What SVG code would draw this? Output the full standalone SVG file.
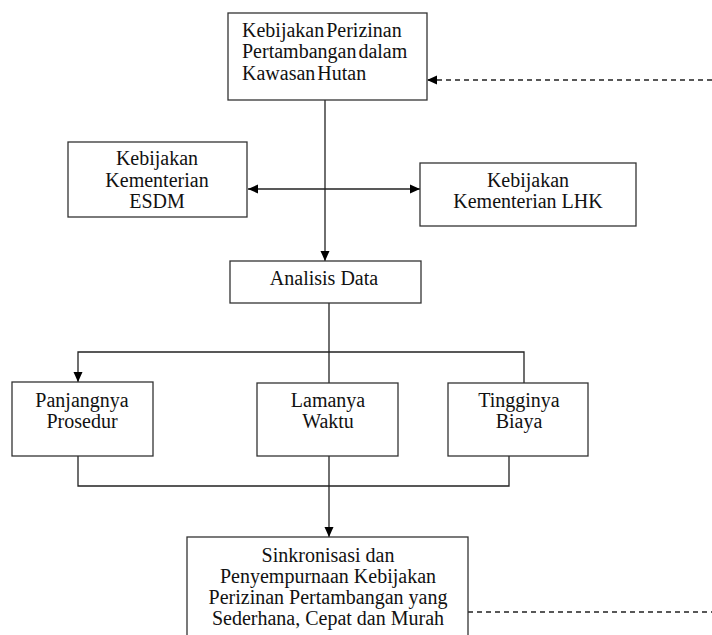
<svg xmlns="http://www.w3.org/2000/svg" width="712" height="635" viewBox="0 0 712 635">
<style>
.box{fill:#fff;stroke:#333;stroke-width:1.3}
.t{font-size:20px;fill:#111}
.c{text-anchor:middle}
.ln{fill:none;stroke:#222;stroke-width:1.3}
.dash{fill:none;stroke:#222;stroke-width:1.3;stroke-dasharray:5,4}
</style>
<defs>
<marker id="ah" viewBox="0 0 10 10" refX="10" refY="5" markerWidth="10" markerHeight="10" markerUnits="userSpaceOnUse" orient="auto-start-reverse">
<path d="M0,0.5 L10,5 L0,9.5 Z" fill="#000"/>
</marker>
</defs>
<rect width="712" height="635" fill="#fff"/>
<g id="connectors">
<line class="ln" x1="325" y1="100" x2="325" y2="261" marker-end="url(#ah)"/>
<line class="ln" x1="248" y1="189" x2="420" y2="189" marker-start="url(#ah)" marker-end="url(#ah)"/>
<polyline class="ln" points="329,303 329,383"/>
<polyline class="ln" points="78,382 78,352 524,352 524,383" marker-start="url(#ah)"/>
<polyline class="ln" points="78,456 78,486 509,486 509,456"/>
<line class="ln" x1="329" y1="456" x2="329" y2="537" marker-end="url(#ah)"/>
<line class="dash" x1="712" y1="80" x2="427" y2="80" marker-end="url(#ah)"/>
<line class="dash" x1="468" y1="612" x2="712" y2="612"/>
</g>
<g font-family="Liberation Serif, Tinos, DejaVu Serif, serif">
<g id="node-kebijakan-perizinan">
<rect class="box" x="228" y="13" width="199" height="87"/>
<text class="t" x="242" y="37" word-spacing="-3">Kebijakan Perizinan</text>
<text class="t" x="242" y="58" word-spacing="-3">Pertambangan dalam</text>
<text class="t" x="242" y="80" word-spacing="-3">Kawasan Hutan</text>
</g>
<g id="node-esdm">
<rect class="box" x="68" y="142" width="179" height="75"/>
<text class="t c" x="157" y="165">Kebijakan</text>
<text class="t c" x="157" y="187">Kementerian</text>
<text class="t c" x="157" y="208">ESDM</text>
</g>
<g id="node-lhk">
<rect class="box" x="420" y="163" width="216" height="63"/>
<text class="t c" x="528" y="187">Kebijakan</text>
<text class="t c" x="528" y="208">Kementerian LHK</text>
</g>
<g id="node-analisis">
<rect class="box" x="230" y="261" width="191" height="42"/>
<text class="t c" x="324" y="285">Analisis Data</text>
</g>
<g id="node-panjangnya">
<rect class="box" x="12" y="382" width="141" height="74"/>
<text class="t c" x="82" y="407">Panjangnya</text>
<text class="t c" x="82" y="428">Prosedur</text>
</g>
<g id="node-lamanya">
<rect class="box" x="257" y="383" width="141" height="73"/>
<text class="t c" x="328" y="407">Lamanya</text>
<text class="t c" x="328" y="428">Waktu</text>
</g>
<g id="node-tingginya">
<rect class="box" x="448" y="383" width="140" height="73"/>
<text class="t c" x="519" y="407">Tingginya</text>
<text class="t c" x="519" y="428">Biaya</text>
</g>
<g id="node-sinkronisasi">
<rect class="box" x="187" y="537" width="281" height="110"/>
<text class="t c" x="328" y="562">Sinkronisasi dan</text>
<text class="t c" x="328" y="583">Penyempurnaan Kebijakan</text>
<text class="t c" x="328" y="604">Perizinan Pertambangan yang</text>
<text class="t c" x="328" y="625">Sederhana, Cepat dan Murah</text>
</g>
</g>
</svg>
